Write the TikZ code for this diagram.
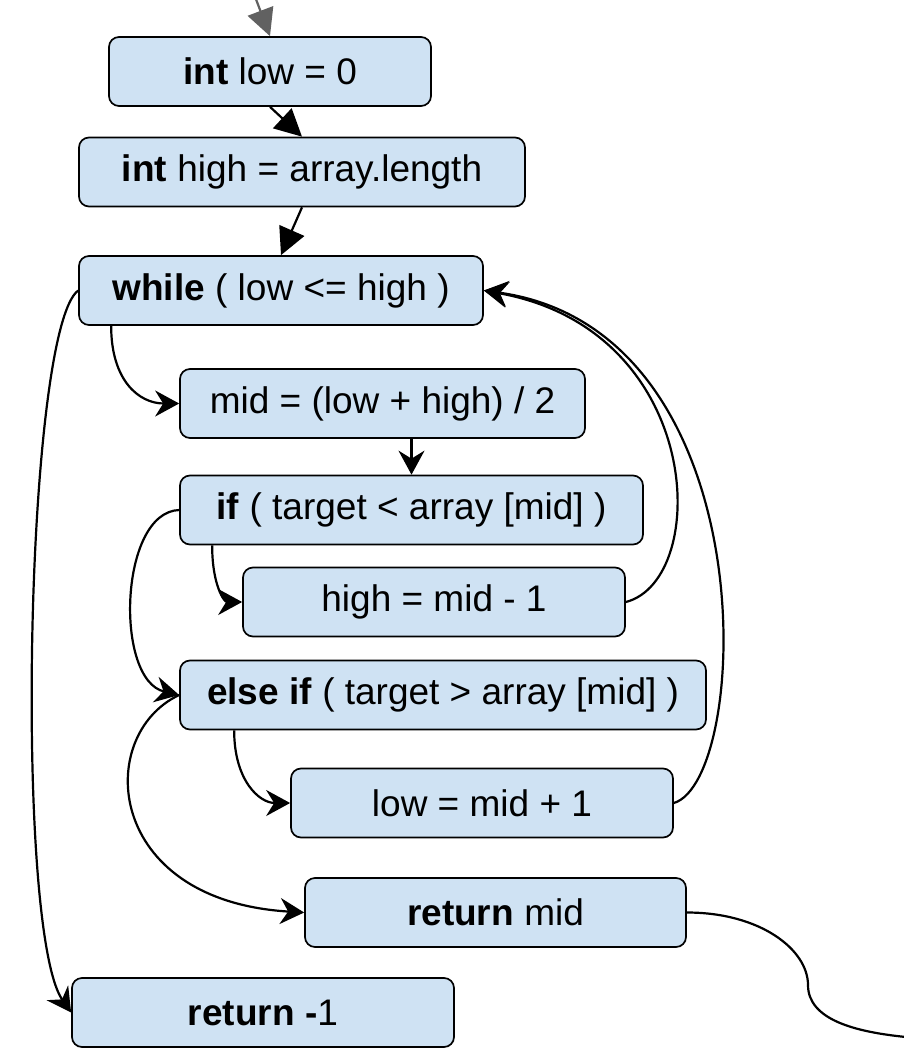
\documentclass[tikz,border=0pt]{standalone}
\usepackage{fontspec}
\setmainfont{Liberation Sans}
\usetikzlibrary{arrows.meta}
\definecolor{boxfill}{HTML}{CFE2F3}
\definecolor{feed}{HTML}{616161}

\begin{document}
\begin{tikzpicture}[x=1pt,y=-1pt,
  stmt/.style={draw=black, line width=1.7pt, fill=boxfill, rounded corners=10pt,
    inner sep=0pt, minimum height=69pt, font=\fontsize{37}{44}\selectfont},
  flow/.style={line width=2.2pt, -{Stealth[length=24pt,width=26pt,inset=8pt]}},
  seq/.style={line width=2.2pt, -{Triangle[length=27pt,width=27pt]}},
]
\useasboundingbox (0,0) rectangle (904,1049);

% statements of the binary search
\node[stmt, minimum width=322pt] (lowinit)  at (270,71.5)   {\textbf{int} low = 0};
\node[stmt, minimum width=446pt] (highinit) at (302,172)    {\textbf{int} high = array.length};
\node[stmt, minimum width=404pt] (loop)     at (281,290.5)  {\textbf{while} ( low <= high )};
\node[stmt, minimum width=405pt] (midcalc)  at (382.5,403.5){mid = (low + high) / 2};
\node[stmt, minimum width=463pt] (iflt)     at (411.5,510)  {\textbf{if} ( target < array [mid] )};
\node[stmt, minimum width=382pt] (highdec)  at (434,602)    {high = mid - 1};
\node[stmt, minimum width=526pt] (ifgt)     at (443,695)    {\textbf{else if} ( target > array [mid] )};
\node[stmt, minimum width=382pt] (lowinc)   at (482,803)    {low = mid + 1};
\node[stmt, minimum width=381pt] (retmid)   at (495.5,912.5){\textbf{return} mid};
\node[stmt, minimum width=382pt] (retneg)   at (263,1012.5) {\textbf{return -}1};

\coordinate (entry) at (254,-6);
\coordinate (bend)  at (808,985);
\coordinate (exit)  at (906,1037);

% straight sequence
\draw[seq, draw=feed, fill=feed] (entry) -- (lowinit.north);
\draw[seq] (lowinit.south) -- (highinit.north);
\draw[seq] (highinit.south) -- (loop.north);
\draw[flow] (iflt.north |- midcalc.south) -- (iflt.north);

% loop body and branches
\draw[flow] ([xshift=33pt]loop.south west) .. controls +(0,55) and +(-40,0) .. (midcalc.west);
\draw[flow] (loop.west) .. controls +(-53,40) and +(-57,-82) .. (retneg.west);
\draw[flow] ([xshift=33pt]iflt.south west) .. controls +(0,40) and +(-18,0) .. (highdec.west);
\draw[flow] (iflt.west) .. controls +(-60,2) and +(-65,-15) .. (ifgt.west);
\draw[flow] ([xshift=55pt]ifgt.south west) .. controls +(0,50) and +(-31,0) .. (lowinc.west);
\draw[flow] (ifgt.west) .. controls +(-85,40) and +(-200,-12) .. (retmid.west);

% back edges to the loop test
\draw[flow] (highdec.east) .. controls +(85,-22) and +(222,40) .. (loop.east);
\draw[flow] (lowinc.east) .. controls +(77,-23) and +(285,40) .. (loop.east);

% result leaves the picture
\draw[line width=2.2pt] (retmid.east) .. controls +(74,0) and +(0,-35) .. (bend)
  .. controls +(0,35) and +(-50,-5) .. (exit);
\end{tikzpicture}
\end{document}
